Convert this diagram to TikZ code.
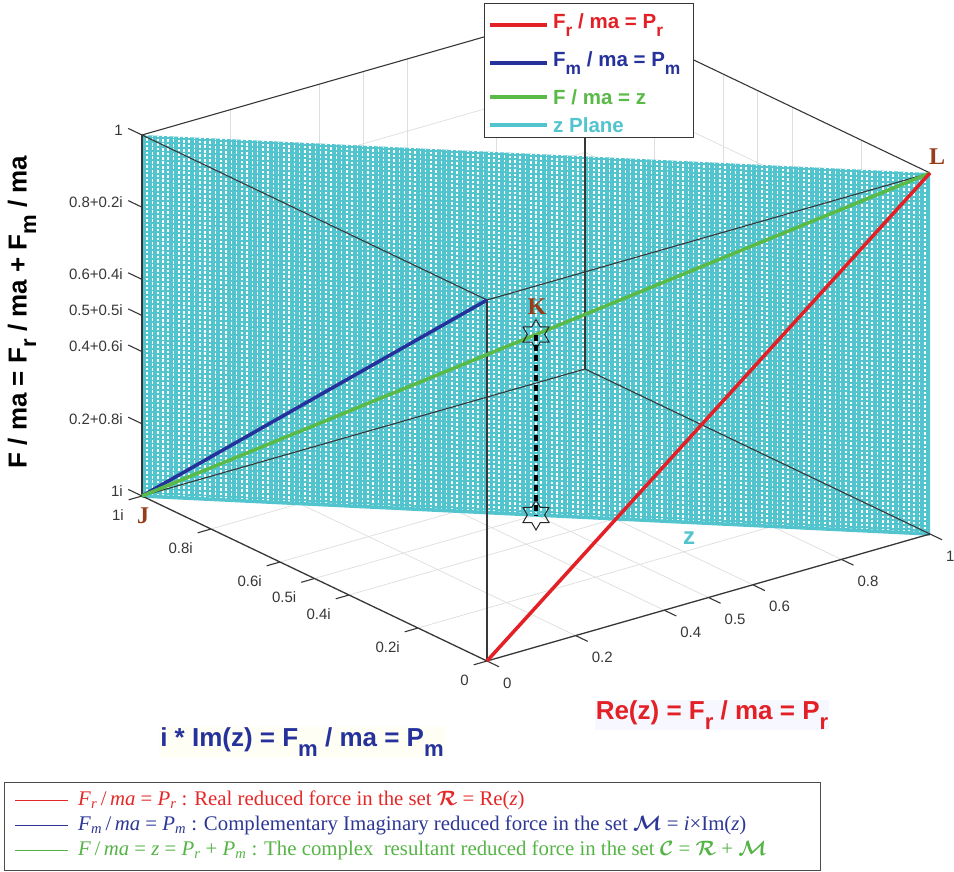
\documentclass[tikz,border=0pt]{standalone}
\usepackage{fontspec}
\setmainfont{Liberation Serif}
\newfontfamily\axf{Liberation Sans}
\usepackage{graphicx}
\usepackage{bm}
\usetikzlibrary{shapes.geometric}
\newcommand{\dsub}[1]{\raisebox{-0.7ex}{\scalebox{0.85}{#1}}}
\newcommand{\lsub}[2]{\textit{#1}\textsubscript{\textit{#2}}}
\definecolor{cred}{RGB}{226,32,38}
\definecolor{cblue}{RGB}{38,50,156}
\definecolor{cgreen}{RGB}{90,186,72}
\definecolor{ccyan}{RGB}{82,196,206}
\definecolor{cbrown}{RGB}{150,62,26}
\definecolor{ctick}{RGB}{55,55,55}
\definecolor{cgrid}{RGB}{222,222,222}
\definecolor{cbox}{RGB}{55,55,55}
\definecolor{bred}{RGB}{228,40,40}
\definecolor{bblue}{RGB}{45,55,150}
\definecolor{bgreen}{RGB}{85,180,70}
\begin{document}
\begin{tikzpicture}[x=1pt,y=-1pt,
 gridl/.style={draw=cgrid, line width=0.7pt},
 meshw/.style={draw=white, line width=1.6pt, dash pattern=on 2.6pt off 1.9pt},
 boxe/.style={draw=cbox, line width=1.1pt},
 axl/.style={draw=ctick, line width=1.3pt},
 tickl/.style={draw=ctick, line width=1.1pt},
 ticklab/.style={font=\axf\fontsize{15}{18}\selectfont, text=ctick, inner sep=0pt},
 hexa/.style={star, star points=6, star point ratio=1.73, minimum size=30pt, inner sep=0pt, draw=black!85, line width=1pt},
 kdash/.style={draw=black, line width=3.4pt, dash pattern=on 6pt off 4pt},
 legtext/.style={font=\axf\bfseries\fontsize{20.5}{24}\selectfont, inner sep=0pt, anchor=west},
 axtitle/.style={font=\axf\bfseries\fontsize{26}{30}\selectfont, inner sep=1pt},
 ptlab/.style={font=\bfseries\fontsize{24}{28}\selectfont, text=cbrown, inner sep=0pt},
 botleg/.style={font=\fontsize{20.8}{24}\selectfont, inner sep=0pt, anchor=west},
 cline/.style={line width=3.5pt}
]
\useasboundingbox (0,0) rectangle (954,872);
\fill[white] (0,0) rectangle (954,872);

\begin{scope}[shift={(487pt,-661pt)}, x={(443pt,127pt)}, y={(-345pt,165pt)}, z={(0pt,361pt)}]
  \coordinate (O) at (0,0,0);
  \coordinate (X1) at (1,0,0);
  \coordinate (J) at (0,1,0);
  \coordinate (Z1) at (0,0,1);
  \coordinate (XY) at (1,1,0);
  \coordinate (L) at (1,0,1);
  \coordinate (YZ) at (0,1,1);
  \coordinate (XYZ) at (1,1,1);
  \coordinate (K) at (0.5,0.5,0.5);
  \coordinate (Kb) at (0.5,0.5,0);
  % grid
  \foreach \c in {0.2,0.4,0.5,0.6,0.8} {
    \draw[gridl] (\c,0,0) -- (\c,1,0);
    \draw[gridl] (0,\c,0) -- (1,\c,0);
    \draw[gridl] (\c,1,0) -- (\c,1,1);
    \draw[gridl] (0,1,\c) -- (1,1,\c);
    \draw[gridl] (1,\c,0) -- (1,\c,1);
    \draw[gridl] (1,0,\c) -- (1,1,\c);
  }
  % z plane
  \fill[ccyan] (J) -- (YZ) -- (L) -- (X1) -- cycle;
  \foreach \i in {1,...,149} {
    \draw[meshw] ({\i/150},{1-\i/150},0) -- ({\i/150},{1-\i/150},1);
  }
  \draw[ccyan, line width=3.5pt] (J) -- (X1);
  % box edges
  \draw[boxe] (YZ) -- (XYZ) -- (L);
  \draw[boxe] (YZ) -- (Z1) -- (L);
  \draw[boxe] (O) -- (Z1);
  \draw[boxe] (XY) -- (XYZ);
  \draw[boxe] (J) -- (XY) -- (X1);
  % axes
  \draw[axl] (J) -- (YZ);
  \draw[axl] (O) -- (J);
  \draw[axl] (O) -- (X1);
  % ticks + labels
  \foreach \t/\lab [count=\n] in {1/1, 0.8/0.8+0.2i, 0.6/0.6+0.4i, 0.5/0.5+0.5i, 0.4/0.4+0.6i, 0.2/0.2+0.8i, 0/1i} {
    \draw[tickl] (0,1,\t) -- (0,1.04,\t);
    \node[ticklab, anchor=east, xshift=-19pt, yshift=5pt] (vl\n) at (0,1,\t) {\lab};
  }
  \foreach \yv/\lab [count=\n] in {1/1i, 0.8/0.8i, 0.6/0.6i, 0.5/0.5i, 0.4/0.4i, 0.2/0.2i, 0/0} {
    \draw[tickl] (0,\yv,0) -- (-0.03,\yv,0);
    \node[ticklab, anchor=east, xshift=-18pt, yshift=-19pt] (il\n) at (0,\yv,0) {\lab};
  }
  \foreach \xv/\lab [count=\n] in {0/0, 0.2/0.2, 0.4/0.4, 0.5/0.5, 0.6/0.6, 0.8/0.8, 1/1} {
    \draw[tickl] (\xv,0,0) -- (\xv,-0.035,0);
    \node[ticklab, anchor=west, xshift=16pt, yshift=-22pt] (rl\n) at (\xv,0,0) {\lab};
  }
  % colored lines
  \draw[cline, cblue] (J) -- (Z1);
  \draw[cline, cgreen] (J) -- (L);
  \draw[cline, cred] (O) -- (L);
  % K markers
  \node[hexa] (K1) at (K) {};
  \node[hexa] (K2) at (Kb) {};
  \draw[kdash] (K1.center) -- (K2.center);
\end{scope}

% point labels
\node[ptlab] (Jlab) at (143,516) {J};
\node[ptlab] (Llab) at (937,157) {L};
\node[ptlab] (Klab) at (537,307) {K};
\node[font=\axf\bfseries\fontsize{24}{28}\selectfont, text=ccyan, inner sep=0pt] (zlab) at (689,538) {z};

% axis titles
\node[axtitle, text=cblue, fill=yellow!4] (imt) at (302,742) {i * Im(z) = F\dsub{m} / ma = P\dsub{m}};
\node[axtitle, text=cred, fill=blue!3] (ret) at (712,715) {Re(z) = F\dsub{r} / ma = P\dsub{r}};
\node[axtitle, rotate=90, text=black] (vt) at (22,312) {F / ma = F\dsub{r} / ma + F\dsub{m} / ma};

% top legend
\node[draw=cbox, fill=white, line width=1pt, minimum width=209pt, minimum height=134pt, anchor=north west, inner sep=0pt] (leg) at (484,3) {};
\draw[cline, cred] (490,25) -- (547,25);
\node[legtext, text=cred] (lg1) at (553,25) {F\dsub{r} / ma = P\dsub{r}};
\draw[cline, cblue] (490,63) -- (547,63);
\node[legtext, text=cblue] (lg2) at (553,63) {F\dsub{m} / ma = P\dsub{m}};
\draw[cline, cgreen] (490,97) -- (547,97);
\node[legtext, text=cgreen] (lg3) at (553,97) {F / ma = z};
\draw[cline, ccyan] (490,125) -- (547,125);
\node[legtext, text=ccyan] (lg4) at (553,125) {z Plane};

% bottom legend
\node[draw=black!70, line width=1pt, minimum width=816pt, minimum height=88pt, anchor=north west, inner sep=0pt] (bleg) at (4,782) {};
\draw[bred, line width=1pt] (15,800) -- (68,800);
\node[botleg, text=bred] (b1) at (78,800) {\lsub{F}{r}\,/\,\textit{ma} = \lsub{P}{r} : Real reduced force in the set $\bm{\mathcal{R}}$ = Re(\textit{z})};
\draw[bblue, line width=1pt] (15,825) -- (68,825);
\node[botleg, text=bblue] (b2) at (78,825) {\lsub{F}{m}\,/\,\textit{ma} = \lsub{P}{m} : Complementary Imaginary reduced force in the set $\bm{\mathcal{M}}$ = \textit{i}×Im(\textit{z})};
\draw[bgreen, line width=1pt] (15,850) -- (68,850);
\node[botleg, text=bgreen] (b3) at (78,850) {\textit{F}\,/\,\textit{ma} = \textit{z} = \lsub{P}{r} + \lsub{P}{m} : The complex\ \ resultant reduced force in the set $\bm{\mathcal{C}}$ = $\bm{\mathcal{R}}$ + $\bm{\mathcal{M}}$};
\end{tikzpicture}
\end{document}
